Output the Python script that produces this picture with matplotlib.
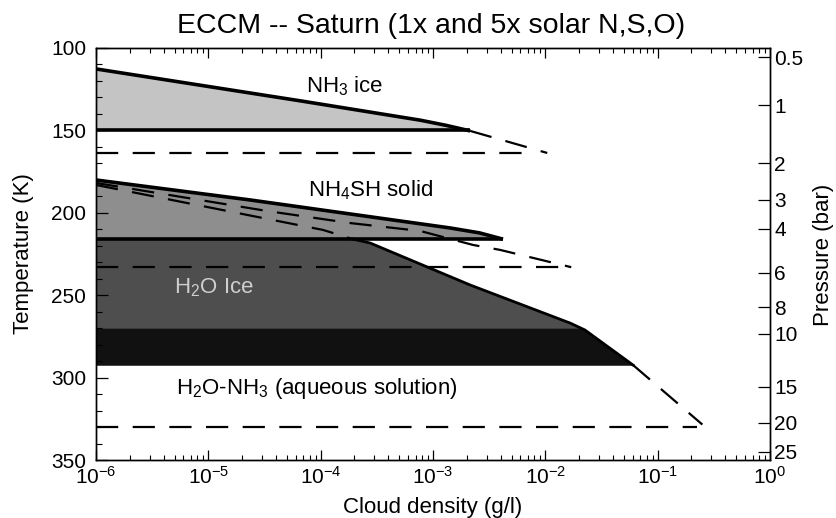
import numpy as np
import matplotlib
matplotlib.use("Agg")
import matplotlib.pyplot as plt
from matplotlib.ticker import LogLocator, NullFormatter, MultipleLocator, FixedLocator, FixedFormatter

plt.rcParams['font.family'] = ['Liberation Sans', 'DejaVu Sans']
plt.rcParams['mathtext.fontset'] = 'custom'
plt.rcParams['mathtext.rm'] = 'Liberation Sans'
plt.rcParams['mathtext.it'] = 'Liberation Sans:italic'
plt.rcParams['mathtext.bf'] = 'Liberation Sans:bold'
plt.rcParams['mathtext.sf'] = 'Liberation Sans'
plt.rcParams['mathtext.default'] = 'regular'

# ---------------- data ----------------
# NH3 ice cloud (1x solar)
nh3_top_density = [1e-6, 6.5e-5, 7.7e-4, 1.3e-3, 2.14e-3]
nh3_top_temp = [112.7, 132.0, 143.8, 146.9, 150.3]
nh3_base_temp = 150.0
# NH3 ice cloud (5x solar, dashed)
nh3_5x_density = [2.14e-3, 1.04e-2]
nh3_5x_temp = [150.3, 163.7]
nh3_5x_base_temp = 163.7
nh3_5x_base_end = 7.8e-3

# NH4SH solid cloud (1x solar)
nh4sh_top_density = [1e-6, 2.35e-5, 1.42e-3, 2.6e-3, 4.2e-3]
nh4sh_top_temp = [180.1, 192.2, 209.2, 212.2, 216.0]
nh4sh_base_temp = 216.0
# NH4SH (5x solar, dashed)
nh4sh_5x_density = [1e-6, 3.33e-5, 1.82e-4, 7.66e-4, 2.27e-3, 3.95e-3, 1.7e-2]
nh4sh_5x_temp = [181.9, 198.9, 206.2, 211.0, 219.5, 222.5, 233.0]
nh4sh_5x_base_temp = 233.0
nh4sh_5x_base_end = 1.7e-2

# H2O ice cloud upper edge (dashed continuation above NH4SH base)
h2o_upper_density = [1e-6, 3.77e-5, 1.05e-4, 1.94e-4]
h2o_upper_temp = [183.1, 204.4, 210.4, 216.0]
# H2O ice / aqueous cloud boundary (1x solar)
h2o_density = [1.94e-4, 2.75e-4, 2.14e-3, 1.66e-2, 2.25e-2, 6.04e-2]
h2o_temp = [216.0, 218.3, 243.8, 266.9, 271.1, 292.4]
aqueous_top_temp = 270.0
aqueous_base_temp = 292.4
# H2O-NH3 solution (5x solar, dashed)
aq_5x_density = [6.04e-2, 2.5e-1]
aq_5x_temp = [292.4, 328.5]
aq_5x_base_temp = 330.0
aq_5x_base_end = 2.25e-1

# axes
xlim = (1e-6, 1.0)
temp_lim = (350, 100)
x_major = [1e-6, 1e-5, 1e-4, 1e-3, 1e-2, 1e-1, 1e0]
x_labels = ['$10^{-6}$', '$10^{-5}$', '$10^{-4}$', '$10^{-3}$', '$10^{-2}$', '$10^{-1}$', '$10^{0}$']
temp_ticks = [100, 150, 200, 250, 300, 350]
pressure_labels = ['0.5', '1', '2', '3', '4', '6', '8', '10', '15', '20', '25']
pressure_tick_temp = [105.5, 134.6, 169.8, 192.2, 209.8, 236.5, 257.2, 273.5, 305.7, 327.5, 345.1]

# ---------------- figure ----------------
W, H = 836, 518
fig = plt.figure(figsize=(W / 100, H / 100), dpi=100)
ax = fig.add_axes([96 / W, 1 - 460 / H, 674 / W, 412 / H])
ax.set_xscale('log')
ax.set_xlim(*xlim)
ax.set_ylim(*temp_lim)

c_nh3 = '#c4c4c4'
c_nh4sh = '#8e8e8e'
c_h2o = '#4e4e4e'
c_aq = '#111111'

# fills
ax.fill_between(nh3_top_density, nh3_top_temp, nh3_base_temp, color=c_nh3, lw=0, zorder=1)
ax.fill_between(nh4sh_top_density, nh4sh_top_temp, nh4sh_base_temp, color=c_nh4sh, lw=0, zorder=1)
ax.fill_betweenx(h2o_temp, xlim[0], h2o_density, color=c_h2o, lw=0, zorder=1)
# aqueous (black) part of H2O cloud
t_aq = np.linspace(aqueous_top_temp, aqueous_base_temp, 60)
x_aq = 10 ** np.interp(t_aq, h2o_temp, np.log10(h2o_density))
ax.fill_betweenx(t_aq, xlim[0], x_aq, color=c_aq, lw=0, zorder=1.5)

# dashed (5x solar) lines
dkw = dict(color='black', lw=1.6, dashes=(10, 6.5), zorder=3)
ax.plot(nh3_5x_density, nh3_5x_temp, **dkw)
ax.plot([xlim[0], nh3_5x_base_end], [nh3_5x_base_temp, nh3_5x_base_temp], **dkw)
ax.plot(nh4sh_5x_density, nh4sh_5x_temp, **dkw)
ax.plot([xlim[0], nh4sh_5x_base_end], [nh4sh_5x_base_temp, nh4sh_5x_base_temp], **dkw)
ax.plot(h2o_upper_density, h2o_upper_temp, **dkw)
ax.plot(aq_5x_density, aq_5x_temp, **dkw)
ax.plot([xlim[0], aq_5x_base_end], [aq_5x_base_temp, aq_5x_base_temp], **dkw)

# solid (1x solar) boundaries
skw = dict(color='black', lw=2.6, solid_capstyle='butt', solid_joinstyle='round', zorder=4)
ax.plot(nh3_top_density, nh3_top_temp, **skw)
ax.plot([xlim[0], nh3_top_density[-1]], [nh3_base_temp, nh3_base_temp], **skw)
ax.plot(nh4sh_top_density, nh4sh_top_temp, **skw)
ax.plot([xlim[0], nh4sh_top_density[-1]], [nh4sh_base_temp, nh4sh_base_temp], **skw)
ax.plot(h2o_density, h2o_temp, color='black', lw=2.0, zorder=4)

# region labels
ax.text(1.65e-4, 123, 'NH$_3$ ice', fontsize=16, ha='center', va='center', zorder=5)
ax.text(2.75e-4, 186.5, 'NH$_4$SH solid', fontsize=16, ha='center', va='center', zorder=5)
ax.text(1.12e-5, 245.5, 'H$_2$O Ice', fontsize=16, ha='center', va='center', color='#cfcfcf', zorder=5)
ax.text(9.3e-5, 306.5, 'H$_2$O-NH$_3$ (aqueous solution)', fontsize=16, ha='center', va='center', zorder=5)

# ticks - x
ax.xaxis.set_major_locator(FixedLocator(x_major))
ax.xaxis.set_major_formatter(FixedFormatter(x_labels))
ax.xaxis.set_minor_locator(LogLocator(base=10, subs=np.arange(2, 10), numticks=20))
ax.xaxis.set_minor_formatter(NullFormatter())
ax.tick_params(axis='x', which='both', direction='in', top=True, bottom=True, labelsize=15, pad=4)
ax.tick_params(axis='x', which='major', length=7, width=0.9)
ax.tick_params(axis='x', which='minor', length=3.5, width=0.8)
# ticks - y (temperature)
ax.yaxis.set_major_locator(FixedLocator(temp_ticks))
ax.yaxis.set_minor_locator(MultipleLocator(10))
ax.tick_params(axis='y', which='both', direction='in', left=True, right=False, labelsize=15, pad=7)
ax.tick_params(axis='y', which='major', length=8.5, width=0.9)
ax.tick_params(axis='y', which='minor', length=4.5, width=0.8)

# right axis (pressure)
ax2 = ax.twinx()
ax2.set_ylim(*temp_lim)
ax2.yaxis.set_major_locator(FixedLocator(pressure_tick_temp))
ax2.yaxis.set_major_formatter(FixedFormatter(pressure_labels))
ax2.yaxis.set_minor_locator(FixedLocator([]))
ax2.tick_params(axis='y', which='major', direction='in', length=9, width=0.9, labelsize=15, pad=3)

for a in (ax, ax2):
    for s in a.spines.values():
        s.set_linewidth(1.0)

# titles and axis labels
fig.text(431 / W, 1 - 26 / H, 'ECCM -- Saturn (1x and 5x solar N,S,O)', fontsize=20.5,
         ha='center', va='center')
fig.text(433 / W, 1 - 507 / H, 'Cloud density (g/l)', fontsize=16, ha='center', va='center')
fig.text(24 / W, 1 - 254 / H, 'Temperature (K)', fontsize=16, rotation=90, ha='center', va='center')
fig.text(823 / W, 1 - 255 / H, 'Pressure (bar)', fontsize=16, rotation=90, ha='center', va='center')

fig.savefig('out.png', dpi=100, facecolor='white')
